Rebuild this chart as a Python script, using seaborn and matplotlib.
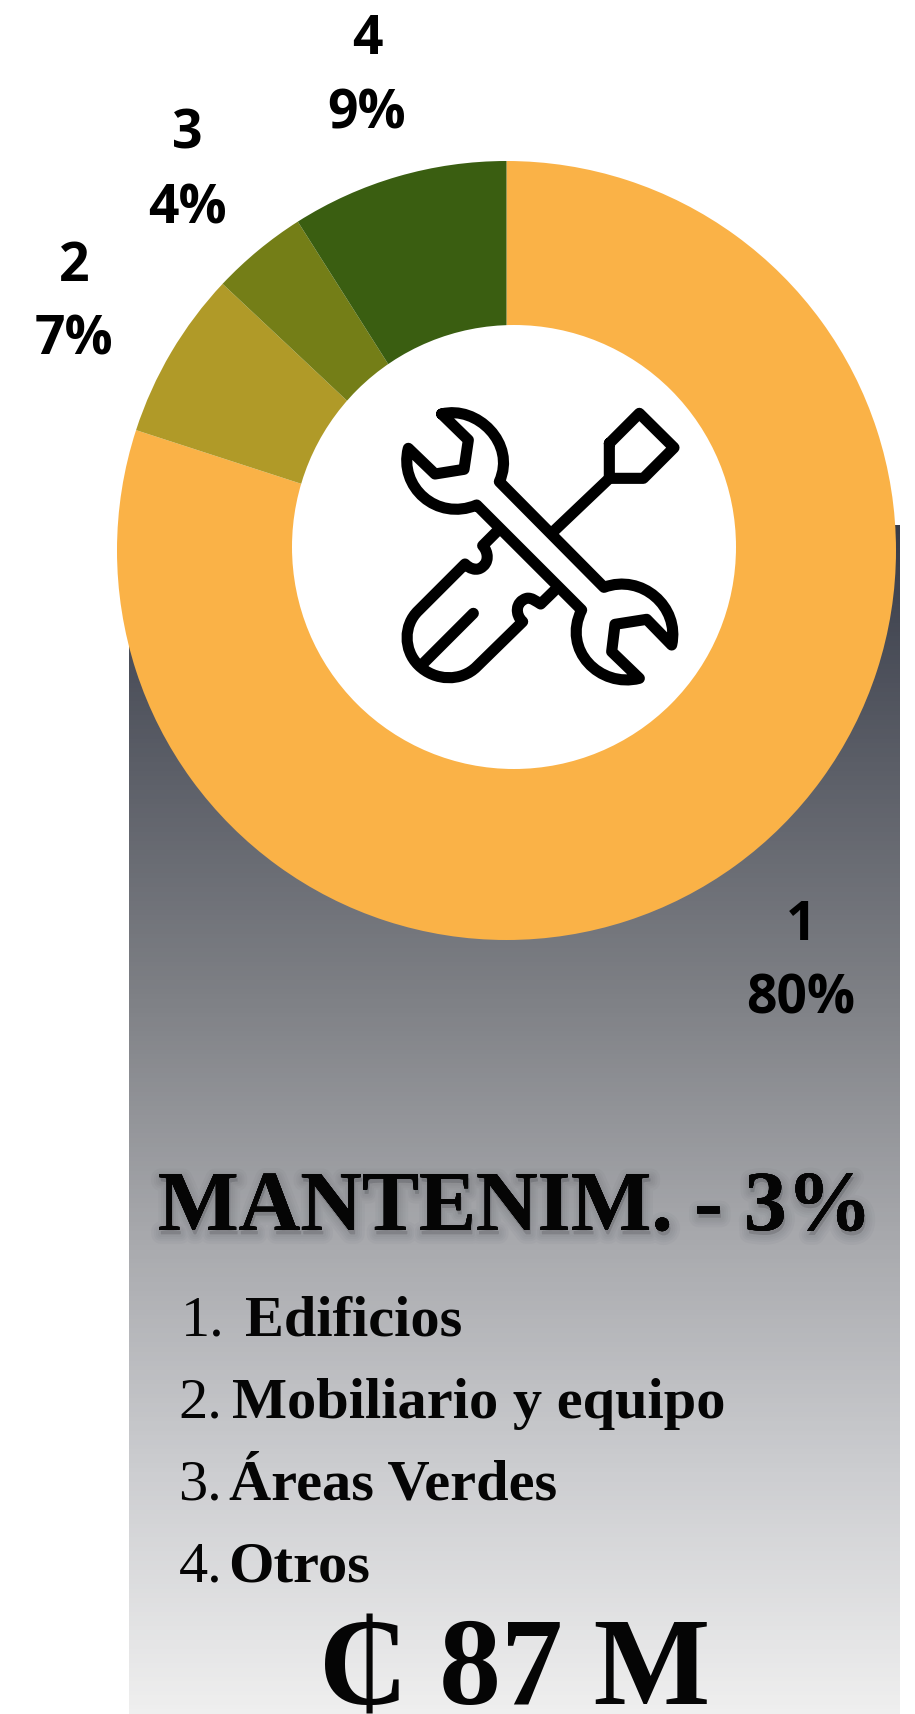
import numpy as np
import seaborn as sns
import matplotlib.pyplot as plt
import matplotlib.patheffects as pe
from matplotlib.patches import Circle, PathPatch
from matplotlib.path import Path

# datos del grafico
categorias = ['Edificios', 'Mobiliario y equipo', 'Áreas Verdes', 'Otros']
valores = [80, 7, 4, 9]
colores = ['#FAB247', '#B09A28', '#747E17', '#3A5E11']
titulo = 'MANTENIM. - 3%'
total = '₵ 87 M'

# colores del fondo, de arriba hacia abajo
fondo_colores = ['#383c49', '#5b5e67', '#7f8186', '#a8a9ad', '#cdced1', '#efefef']

W, H = 915, 1714
sns.set_theme(style='white')
plt.rcParams['font.family'] = ['Liberation Serif', 'DejaVu Sans']

fig = plt.figure(figsize=(W / 100, H / 100), dpi=100)
fig.patch.set_facecolor('white')

# eje de fondo en pixeles
bg = fig.add_axes([0, 0, 1, 1])
bg.set_xlim(0, W)
bg.set_ylim(H, 0)
bg.axis('off')
cmap = sns.blend_palette(fondo_colores, as_cmap=True)
bg.imshow(np.linspace(0, 1, 256).reshape(-1, 1), cmap=cmap, aspect='auto',
          extent=[129, 899.5, H, 525], zorder=1)
bg.set_xlim(0, W)
bg.set_ylim(H, 0)

# dona
cx, cy, R = 506.5, 550.5, 389.5
pie_ax = fig.add_axes([(cx - R) / W, 1 - (cy + R) / H, 2 * R / W, 2 * R / H])
pie_ax.pie(valores, colors=colores, startangle=90, counterclock=False, radius=1,
           wedgeprops={'linewidth': 0})
pie_ax.set_xlim(-1, 1)
pie_ax.set_ylim(-1, 1)

# capa de arriba, tambien en pixeles
top = fig.add_axes([0, 0, 1, 1])
top.set_xlim(0, W)
top.set_ylim(H, 0)
top.axis('off')
top.patch.set_alpha(0)
top.add_patch(Circle((514, 547), 222, facecolor='white', edgecolor='none'))

# etiquetas: numero arriba, porcentaje abajo
pos_etiquetas = [(801, 940, 1013), (74, 281, 354), (187, 148.5, 223.5), (367, 53.5, 128)]
for i, (x, y1, y2) in enumerate(pos_etiquetas):
    top.text(x, y1, str(i + 1), family='Open Sans', weight='bold', fontsize=38.5,
             ha='center', va='baseline', color='black')
    top.text(x, y2, f'{valores[i]}%', family='Open Sans', weight='bold', fontsize=38.5,
             ha='center', va='baseline', color='black')


# icono de herramientas, trazado en coordenadas de un recorte de 3x
def ic(pts):
    return [(380 + p[0] / 3, 380 + p[1] / 3) for p in pts]


M, L, C = Path.MOVETO, Path.LINETO, Path.CURVE4
trazos = [
    # llave
    ([(185, 102), (290, 75), (410, 190), (358, 305), (672, 622), (785, 580), (900, 680),
      (875, 795), (800, 718), (705, 733), (695, 815), (778, 895), (660, 925), (545, 810),
      (605, 690), (290, 375), (170, 425), (55, 320), (85, 205), (165, 282), (252, 268),
      (265, 180), (185, 102)],
     [M, C, C, C, L, C, C, C, L, L, L, L, C, C, C, L, C, C, C, L, L, L, L]),
    # punta del desarmador
    ([(688, 190), (778, 100), (882, 203), (790, 295), (688, 295), (688, 190)],
     [M, L, L, L, L, L]),
    ([(688, 295), (525, 450)], [M, L]),
    # mango
    ([(350, 455), (308, 497), (325, 515), (330, 550), (300, 565), (285, 572), (268, 565),
      (255, 552), (115, 692), (70, 735), (70, 810), (115, 855), (165, 905), (245, 905),
      (290, 860), (428, 725), (405, 705), (405, 665), (440, 655), (455, 652), (470, 665),
      (482, 672), (522, 633)],
     [M, L, C, C, C, C, C, C, L, C, C, C, C, C, C, L, C, C, C, C, C, C, L]),
    ([(280, 700), (130, 850)], [M, L]),
]
for pts, codes in trazos:
    top.add_patch(PathPatch(Path(ic(pts), codes), facecolor='none', edgecolor='black',
                            linewidth=8, capstyle='round', joinstyle='round', zorder=5))

# titulo con sombra suave
sombra = [pe.withStroke(linewidth=lw, foreground='#30343f', alpha=0.035, offset=(1, -3))
          for lw in (14, 10, 7, 4)]
sombra.append(pe.Normal())
top.text(158, 1230, titulo, fontsize=61.5, weight='bold', color='#050505', ha='left',
         va='baseline', path_effects=sombra)

# lista
base_lista = [1335.5, 1417.5, 1499.5, 1582]
x_num = [181, 178.5, 178.5, 179]
x_txt = [245.5, 232, 229, 228]
for i, cat in enumerate(categorias):
    top.text(x_num[i], base_lista[i], f'{i + 1}.', fontsize=42, color='#050505',
             ha='left', va='baseline')
    top.text(x_txt[i], base_lista[i], cat, fontsize=42, weight='bold', color='#050505',
             ha='left', va='baseline')

top.text(514.5, 1705, total, fontsize=89, weight='bold', color='#050505', ha='center',
         va='baseline')

plt.savefig('out.png', dpi=100)
